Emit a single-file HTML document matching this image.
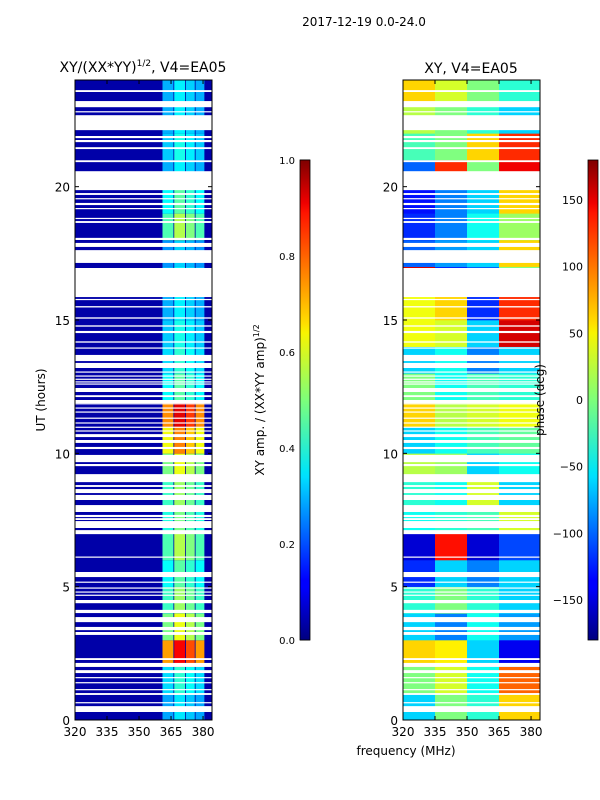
<!DOCTYPE html>
<html><head><meta charset="utf-8"><style>
html,body{margin:0;padding:0;background:#fff;}
svg{display:block;font-family:"DejaVu Sans","Liberation Sans",sans-serif;}
</style></head><body>
<svg id="fig" width="600" height="800" viewBox="0 0 600 800" xmlns="http://www.w3.org/2000/svg">
<defs>
<linearGradient id="jetg" x1="0" y1="1" x2="0" y2="0">
<stop offset="0" stop-color="#00007f"/><stop offset="0.11" stop-color="#0000ff"/><stop offset="0.125" stop-color="#0000ff"/>
<stop offset="0.34" stop-color="#00dfff"/><stop offset="0.35" stop-color="#00e5f8"/><stop offset="0.5" stop-color="#7dff7a"/>
<stop offset="0.64" stop-color="#f8f500"/><stop offset="0.66" stop-color="#ffde00"/><stop offset="0.89" stop-color="#ff1400"/>
<stop offset="0.91" stop-color="#f00000"/><stop offset="1" stop-color="#7f0000"/>
</linearGradient>
</defs>
<text x="364" y="26" text-anchor="middle" font-size="12">2017-12-19 0.0-24.0</text>
<text x="143" y="72" text-anchor="middle" font-size="14">XY/(XX*YY)<tspan font-size="9" dy="-6">1/2</tspan><tspan dy="6">, V4=EA05</tspan></text>
<text x="471" y="73" text-anchor="middle" font-size="14">XY, V4=EA05</text>
<g id="left"></g>
<g id="right"></g>
<g id="axes"></g>
<text x="45" y="400" text-anchor="middle" font-size="12" transform="rotate(-90 45 400)">UT (hours)</text>
<text x="406" y="755" text-anchor="middle" font-size="12">frequency (MHz)</text>
<rect x="300" y="160" width="10" height="480" fill="url(#jetg)" stroke="#000" stroke-width="0.8"/>
<rect x="588" y="160" width="10" height="480" fill="url(#jetg)" stroke="#000" stroke-width="0.8"/>
<text x="264" y="400" text-anchor="middle" font-size="12" transform="rotate(-90 264 400)">XY amp. / (XX*YY amp)<tspan font-size="8" dy="-5">1/2</tspan></text>
<text x="544" y="400" text-anchor="middle" font-size="12" transform="rotate(-90 544 400)">phase (deg)</text>
</svg>
<script>
// time flags: hours with no data [start,end]
const gaps=[[23.55,23.62],[22.98,23.21],[22.8,22.83],[22.12,22.68],[21.82,21.9],[21.67,21.75],[21.41,21.48],[20.92,20.99],[19.87,20.58],[19.69,19.76],[19.53,19.57],[19.31,19.39],[19.16,19.2],[18.79,18.83],[18.64,18.71],[18.0,18.08],[17.74,17.89],[17.55,17.62],[17.14,17.55],[15.86,16.95],[15.75,15.79],[15.47,15.52],[15.05,15.1],[14.75,14.8],[14.51,14.59],[14.15,14.2],[13.93,13.97],[13.46,13.69],[13.2,13.39],[13.03,13.07],[12.88,12.92],[12.77,12.8],[12.66,12.7],[12.58,12.62],[12.3,12.45],[12.11,12.18],[11.88,12.0],[11.85,11.88],[11.68,11.72],[11.53,11.57],[11.3,11.34],[11.12,11.16],[10.97,11.0],[10.82,10.86],[10.61,10.72],[10.39,10.5],[10.16,10.24],[9.67,9.94],[9.52,9.6],[8.92,9.22],[8.74,8.81],[8.51,8.66],[8.25,8.44],[7.8,8.06],[7.61,7.69],[7.5,7.57],[7.2,7.46],[6.97,7.12],[6.09,6.13],[5.36,5.55],[5.15,5.19],[4.93,4.97],[4.78,4.82],[4.66,4.7],[4.38,4.5],[4.01,4.13],[3.67,3.86],[3.37,3.49],[3.19,3.3],[2.25,2.32],[1.99,2.14],[1.76,1.87],[1.57,1.61],[1.39,1.42],[1.12,1.16],[0.94,1.01],[0.64,0.67],[0.3,0.52]];
// amplitude in signal band per hour (0..23)
const bandAmp=[0.32,0.38,0.8,0.55,0.48,0.42,0.5,0.45,0.48,0.55,0.68,0.82,0.42,0.38,0.36,0.33,0.33,0.3,0.5,0.42,0.33,0.36,0.33,0.33];
const baseAmp=0.04;
const bandEdges=[361,366.5,372,376.5,381];
const bandGain=[0.9,1.1,1.0,0.9];
// phase (deg) per hour per freq column
const phaseEdges=[320,335,350,365,384.2];
const phase=[[-60,0,-30,60],[0,30,-40,100],[60,50,-60,-140],[-60,-90,-40,-80],[-30,0,-30,-60],[-120,-60,-90,-60],[-150,130,-150,-110],[-40,-30,-20,30],[-30,-40,30,-60],[20,10,-60,-40],[-60,-40,-20,-10],[60,20,30,40],[0,-40,-20,-30],[-60,-40,-90,-60],[40,30,-60,150],[40,60,-120,120],[150,-120,-100,0],[-100,-80,-60,60],[-120,-90,-40,10],[-130,-90,-60,60],[-100,120,0,140],[-20,0,60,120],[20,0,-30,-60],[60,30,0,-30]];
const xTicks=[320,335,350,365,380];
const yTicks=[0,5,10,15,20];
const cbAmpTicks=["0.0","0.2","0.4","0.6","0.8","1.0"];
const cbPhTicks=[-150,-100,-50,0,50,100,150];

const NS="http://www.w3.org/2000/svg";
const Y0=720,Y1=80,FMIN=320,FMAX=384.2;
const yS=h=>Y0-(h/24)*(Y0-Y1);
const xL=f=>75+(f-FMIN)/(FMAX-FMIN)*137;
const xR=f=>403+(f-FMIN)/(FMAX-FMIN)*137;
function jet(v){v=Math.max(0,Math.min(1,v));
 const r=Math.max(0,Math.min(1,1.5-Math.abs(4*v-3))),g=Math.max(0,Math.min(1,1.5-Math.abs(4*v-2))),b=Math.max(0,Math.min(1,1.5-Math.abs(4*v-1)));
 return `rgb(${Math.round(r*255)},${Math.round(g*255)},${Math.round(b*255)})`;}
function mk(p,tag,a){const e=document.createElementNS(NS,tag);for(const k in a)e.setAttribute(k,a[k]);p.appendChild(e);return e;}
const L=document.getElementById('left'),R=document.getElementById('right'),A=document.getElementById('axes');
bandAmp.forEach((amp,h)=>{
 const y=yS(h+1),hh=yS(h)-yS(h+1);
 const r=mk(L,'rect',{x:75,y:y,width:137,height:hh+0.3,fill:jet(baseAmp)});
 
 
 for(let c=0;c<4;c++){
  const x0=xL(bandEdges[c]),x1=xL(bandEdges[c+1]);
  const b=mk(L,'rect',{x:x0,y:y,width:x1-x0-0.8,height:hh+0.3,fill:jet(amp*bandGain[c])});
  
  
 }
});
phase.forEach((row,h)=>{
 const y=yS(h+1),hh=yS(h)-yS(h+1);
 row.forEach((p,c)=>{
  const x0=xR(phaseEdges[c]),x1=xR(phaseEdges[c+1]);
  const r=mk(R,'rect',{x:x0,y:y,width:x1-x0+0.3,height:hh+0.3,fill:jet((p+180)/360)});
  
  
 });
});
gaps.forEach(g=>{
 [75,403].forEach(x=>{
  const r=mk(x===75?L:R,'rect',{x:x,y:yS(g[1]),width:137,height:Math.max(1.2,yS(g[0])-yS(g[1])),fill:'#fff'});
  
  
 });
});
[[75,xL,'left'],[403,xR,'right']].forEach(([x0,xs,nm])=>{
 const f=mk(A,'rect',{x:x0,y:80,width:137,height:640,fill:'none',stroke:'#000','stroke-width':1});
 
 
 xTicks.forEach(t=>{
  const x=xs(t);
  mk(A,'line',{x1:x,y1:720,x2:x,y2:716,stroke:'#000'});
  mk(A,'line',{x1:x,y1:80,x2:x,y2:84,stroke:'#000'});
  const tx=mk(A,'text',{x:x,y:736,'text-anchor':'middle','font-size':12});
  tx.textContent=t;
  
  
 });
 yTicks.forEach(t=>{
  const y=yS(t);
  mk(A,'line',{x1:x0,y1:y,x2:x0+4,y2:y,stroke:'#000'});
  mk(A,'line',{x1:x0+137,y1:y,x2:x0+133,y2:y,stroke:'#000'});
  const tx=mk(A,'text',{x:x0-5,y:y+5,'text-anchor':'end','font-size':12});
  tx.textContent=t;
  
  
 });
});
cbAmpTicks.forEach((t,i)=>{
 const y=640-i*96;
 mk(A,'line',{x1:300,y1:y,x2:310,y2:y,stroke:'#000','stroke-width':0.8});
 const tx=mk(A,'text',{x:295,y:y+4,'text-anchor':'end','font-size':10});
 tx.textContent=t;
 
 
});
cbPhTicks.forEach(t=>{
 const y=400-t*480/360;
 mk(A,'line',{x1:588,y1:y,x2:598,y2:y,stroke:'#000','stroke-width':0.8});
 const tx=mk(A,'text',{x:583,y:y+4,'text-anchor':'end','font-size':11});
 tx.textContent=t<0?'\u2212'+(-t):t;
 
 
});
</script>
</body></html>
